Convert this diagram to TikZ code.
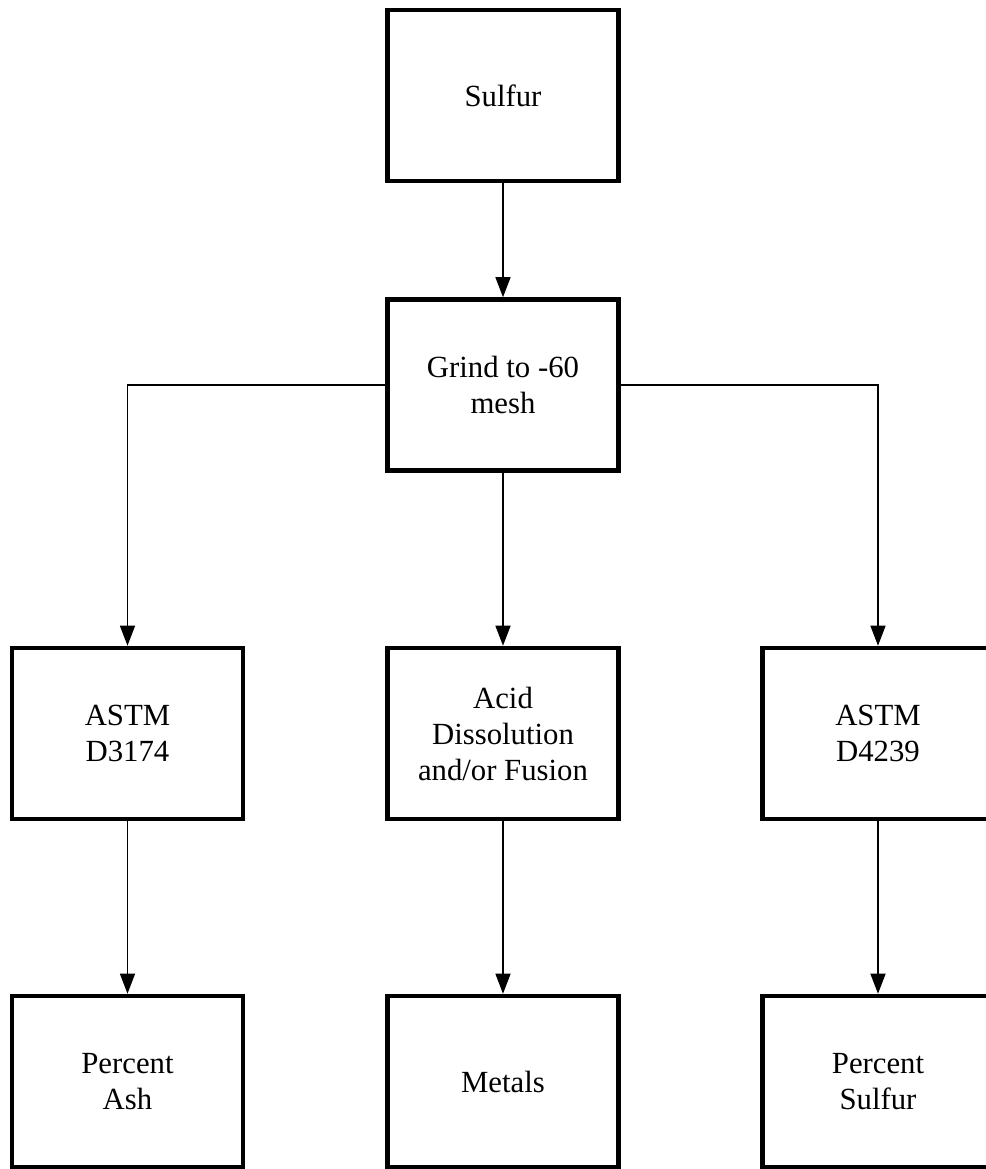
\documentclass[tikz,border=0pt]{standalone}
\usepackage{fontspec}
\setmainfont{Liberation Serif}
\usetikzlibrary{arrows.meta,positioning}
\tikzset{
  procbox/.style={rectangle,draw=black,line width=2.6pt,fill=white,
                  minimum width=4.62cm,minimum height=3.42cm,align=center,
                  font=\fontsize{17.5}{20.5}\selectfont},
  arrow/.style={-{Triangle[length=0.4cm,width=0.3cm]},line width=0.75pt,black},
}

\begin{document}
\begin{tikzpicture}
    \useasboundingbox (0,0) rectangle (19.72,-23.38);

    % Sample
    \node[procbox] (sulfur) at (10.06,-1.91) {Sulfur};

    % Preparation
    \node[procbox] (grind) at (10.06,-7.70) {Grind to -60\\mesh};

    % Test methods
    \node[procbox] (astmash) at (2.55,-14.67) {ASTM\\D3174};
    \node[procbox] (acid) at (10.06,-14.67) {Acid\\Dissolution\\and/or Fusion};
    \node[procbox] (astmsulfur) at (17.56,-14.67) {ASTM\\D4239};

    % Results
    \node[procbox] (pctash) at (2.55,-21.63) {Percent\\Ash};
    \node[procbox] (metals) at (10.06,-21.63) {Metals};
    \node[procbox] (pctsulfur) at (17.56,-21.63) {Percent\\Sulfur};

    \draw[arrow] (sulfur) -- (grind);
    \draw[arrow] (grind.west) -| (astmash.north);
    \draw[arrow] (grind) -- (acid);
    \draw[arrow] (grind.east) -| (astmsulfur.north);
    \draw[arrow] (astmash) -- (pctash);
    \draw[arrow] (acid) -- (metals);
    \draw[arrow] (astmsulfur) -- (pctsulfur);

\end{tikzpicture}
\end{document}
